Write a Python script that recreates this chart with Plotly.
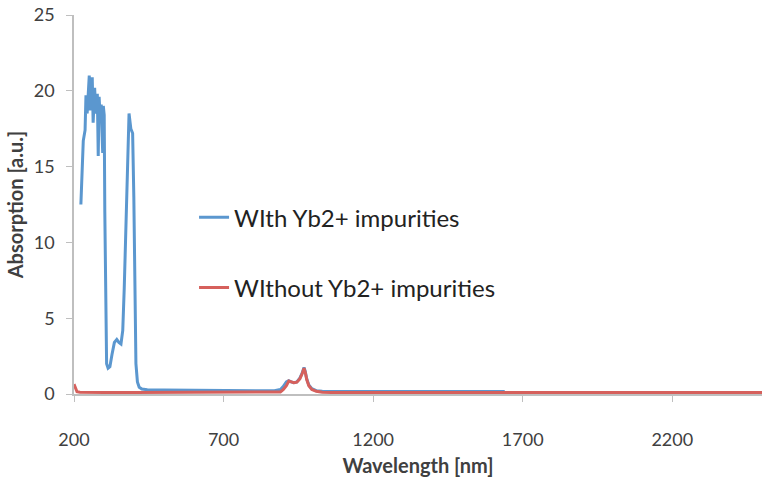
import plotly.graph_objects as go

# --- data ---
wl_with = [223, 231, 237, 240, 244, 248, 251, 253, 257, 261, 264, 269, 273, 278,
           281, 284, 288, 291, 294, 296, 298, 301, 303, 306, 309, 314, 320, 327,
           335, 343, 350, 357, 363, 368, 373, 378, 384, 390, 396, 400, 403, 407,
           412, 418, 427, 445, 500, 600, 700, 800, 870, 890, 900, 910, 918, 926,
           935, 945, 955, 963, 969, 973, 978, 985, 995, 1010, 1030, 1060, 1100,
           1300, 1500, 1640]
abs_with = [12.5, 16.7, 17.4, 19.7, 18.5, 20.5, 21.0, 18.7, 20.0, 20.9, 17.9, 20.2,
            18.5, 19.8, 15.7, 19.6, 18.0, 19.1, 17.0, 15.9, 19.0, 18.4, 12.0, 4.0,
            2.0, 1.7, 1.8, 2.6, 3.4, 3.6, 3.4, 3.3, 4.2, 7.0, 11.0, 15.5, 18.5,
            17.5, 17.2, 13.0, 6.0, 2.0, 0.8, 0.45, 0.33, 0.28, 0.26, 0.24, 0.22,
            0.21, 0.21, 0.3, 0.5, 0.8, 0.88, 0.8, 0.75, 0.8, 1.05, 1.4, 1.75, 1.5,
            1.0, 0.6, 0.35, 0.22, 0.18, 0.17, 0.17, 0.17, 0.16, 0.16]

wl_without = [200, 203, 206, 210, 220, 250, 300, 400, 500, 600, 700, 800, 870, 890,
              900, 910, 918, 926, 935, 945, 955, 963, 969, 973, 978, 985, 995, 1010,
              1030, 1060, 1100, 1300, 1500, 1800, 2100, 2500]
abs_without = [0.65, 0.45, 0.25, 0.15, 0.12, 0.1, 0.1, 0.1, 0.1, 0.1, 0.1, 0.1, 0.1,
               0.14, 0.3, 0.55, 0.85, 0.82, 0.75, 0.78, 1.0, 1.35, 1.7, 1.45, 0.95,
               0.55, 0.3, 0.18, 0.12, 0.1, 0.1, 0.1, 0.1, 0.1, 0.1, 0.1]

x_ticks = [200, 700, 1200, 1700, 2200]
y_ticks = [0, 5, 10, 15, 20, 25]

FONT = "Lato, 'Open Sans', sans-serif"
AXIS_GRAY = "#bfbfbf"
TEXT = "#404040"

fig = go.Figure()
fig.add_trace(go.Scatter(x=wl_with, y=abs_with, mode="lines",
                         name="WIth Yb2+ impurities", showlegend=True,
                         line=dict(color="#5b97cf", width=3),
                         legend="legend"))
fig.add_trace(go.Scatter(x=wl_without, y=abs_without, mode="lines",
                         name="WIthout Yb2+ impurities", showlegend=True,
                         line=dict(color="#d6605c", width=3),
                         legend="legend2"))

leg_common = dict(font=dict(family=FONT, size=24, color="#222222"),
                  bgcolor="rgba(0,0,0,0)", borderwidth=0,
                  xanchor="left", yanchor="middle", itemwidth=30)

fig.update_layout(
    width=765, height=485,
    margin=dict(l=74, r=3, t=15, b=91),
    plot_bgcolor="white", paper_bgcolor="white",
    font=dict(family=FONT, color=TEXT),
    showlegend=True,
    legend=dict(x=0.1745, y=0.465, **leg_common),
    legend2=dict(x=0.1745, y=0.280, **leg_common),
    xaxis=dict(
        range=[200, 2500], tickvals=x_ticks, ticktext=[str(v) for v in x_ticks],
        showgrid=False, zeroline=False, showline=True, linecolor=AXIS_GRAY,
        linewidth=1.5, ticks="outside", ticklen=6, tickcolor=AXIS_GRAY,
        tickfont=dict(family=FONT, size=18, color=TEXT), ticklabelstandoff=23,
        automargin=False,
        title=dict(text="<b>Wavelength [nm]</b>", font=dict(family=FONT, size=20, color=TEXT),
                   standoff=10),
    ),
    yaxis=dict(
        range=[0, 25], tickvals=y_ticks,
        showgrid=False, zeroline=False, showline=True, linecolor=AXIS_GRAY,
        linewidth=1.5, ticks="outside", ticklen=6, tickcolor=AXIS_GRAY,
        tickfont=dict(family=FONT, size=18, color=TEXT), ticklabelstandoff=8,
        automargin=False,
        title=dict(text="<b>Absorption [a.u.]</b>", font=dict(family=FONT, size=20, color=TEXT),
                   standoff=5),
    ),
)

fig.write_html("out.html", config={"displayModeBar": False},
               post_script="document.body.style.margin='0';")
